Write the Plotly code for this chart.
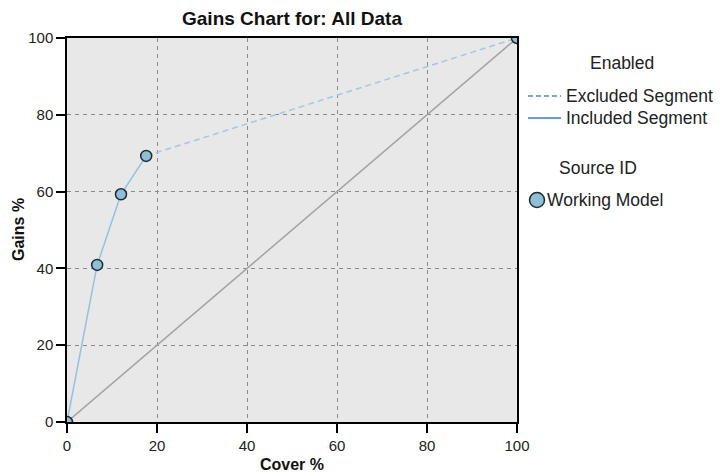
import plotly.graph_objects as go

# Data
cover = [0, 6.7, 12.0, 17.6, 100]
gains = [0, 40.9, 59.3, 69.3, 100]
included_n = 4  # first 4 points form the included segment
ticks = [0, 20, 40, 60, 80, 100]
diag = [0, 100]

legend_group1 = "Enabled"
legend_items1 = ["Excluded Segment", "Included Segment"]
legend_group2 = "Source ID"
legend_items2 = ["Working Model"]

FONT = "Liberation Sans, Arial, sans-serif"
line_col = "#8fc3e0"
marker_fill = "#8ebed8"

fig = go.Figure()

fig.add_trace(go.Scatter(x=diag, y=diag, mode="lines",
                         line=dict(color="#a2a2a2", width=1.5),
                         showlegend=False, hoverinfo="skip"))
fig.add_trace(go.Scatter(x=cover[included_n - 1:], y=gains[included_n - 1:], mode="lines",
                         line=dict(color="#a0c8e4", width=1.5, dash="6px,4px"),
                         showlegend=False))
fig.add_trace(go.Scatter(x=cover[:included_n], y=gains[:included_n], mode="lines",
                         line=dict(color=line_col, width=1.5),
                         showlegend=False))
fig.add_trace(go.Scatter(x=cover, y=gains, mode="markers",
                         marker=dict(size=11, color=marker_fill,
                                     line=dict(color="#1e2a30", width=1.5)),
                         showlegend=False))

axis_common = dict(
    range=[0, 100], tickvals=ticks, showgrid=True, gridcolor="#8a8a8a",
    griddash="4px,4px", gridwidth=1, showline=True, linecolor="#000000", linewidth=1.5,
    mirror=True, ticks="outside", ticklen=9, tickcolor="#000000", tickwidth=1.5,
    zeroline=False, automargin=False, tickfont=dict(size=15, color="#222222"),
    title_font=dict(size=16, color="#111111", family=FONT),
)

# custom legend (paper coordinates)
def px2x(px):
    return (px - 67) / 450.0

def py2y(py):
    return (422 - py) / 384.0

leg_font = dict(size=17.5, color="#222222", family=FONT)
annotations = [
    dict(text=legend_group1, x=px2x(622), y=py2y(63), xanchor="center"),
    dict(text=legend_items1[0], x=px2x(564), y=py2y(96), xanchor="left"),
    dict(text=legend_items1[1], x=px2x(564), y=py2y(118), xanchor="left"),
    dict(text=legend_group2, x=px2x(598), y=py2y(168), xanchor="center"),
    dict(text=legend_items2[0], x=px2x(545), y=py2y(200), xanchor="left"),
]
for a in annotations:
    a.update(xref="paper", yref="paper", yanchor="middle", showarrow=False, font=leg_font)

# y-axis title as rotated annotation
annotations.append(dict(text="<b>Gains %</b>", xref="paper", yref="paper",
                        x=px2x(18), y=py2y(230), xanchor="center", yanchor="middle",
                        textangle=-90, showarrow=False,
                        font=dict(size=16, color="#111111", family=FONT)))

shapes = [
    dict(type="line", xref="paper", yref="paper", x0=px2x(528), x1=px2x(561),
         y0=py2y(96), y1=py2y(96), line=dict(color="#7fa7d6", width=2, dash="5px,3px")),
    dict(type="line", xref="paper", yref="paper", x0=px2x(528), x1=px2x(561),
         y0=py2y(118), y1=py2y(118), line=dict(color="#6d9bd2", width=2)),
    dict(type="circle", xref="paper", yref="paper", xsizemode="pixel", ysizemode="pixel",
         xanchor=px2x(537), yanchor=py2y(200), x0=-7.5, x1=7.5, y0=-7.5, y1=7.5,
         fillcolor=marker_fill, line=dict(color="#1e2a30", width=1.5)),
]

fig.update_layout(
    width=721, height=473,
    margin=dict(l=67, r=204, t=38, b=51),
    paper_bgcolor="#ffffff", plot_bgcolor="#e8e8e8",
    font=dict(family=FONT, color="#222222"),
    title=dict(text="<b>Gains Chart for: All Data</b>", x=0.5, xref="paper", xanchor="center",
               y=1 - 18 / 473, yref="container", yanchor="middle",
               font=dict(size=19, color="#111111")),
    xaxis=dict(axis_common, title=dict(text="<b>Cover %</b>", standoff=8)),
    yaxis=dict(axis_common),
    showlegend=False,
    annotations=annotations,
    shapes=shapes,
)

fig.write_html("out.html", config={"displayModeBar": False},
               post_script="document.body.style.margin='0';document.body.style.overflow='hidden';")
